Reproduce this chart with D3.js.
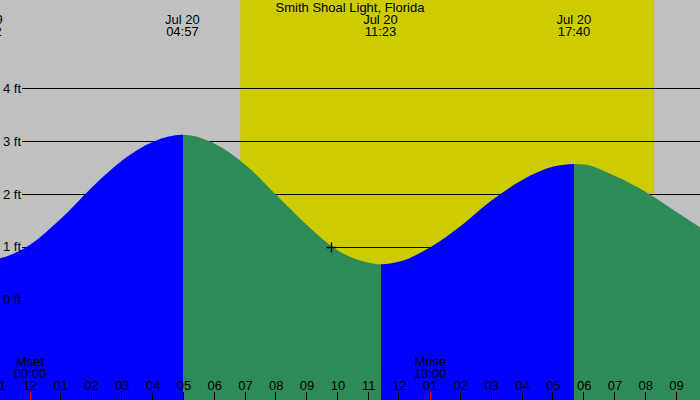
<!DOCTYPE html>
<html>
<head>
<meta charset="utf-8">
<script src="https://cdn.jsdelivr.net/npm/d3@7"></script>
<style>
  html, body { margin: 0; padding: 0; background: #c0c0c0; }
  svg { display: block; }
  text { font-family: "Liberation Sans", Arial, sans-serif; font-size: 13px; fill: #000; }
</style>
</head>
<body>
<svg id="chart" width="700" height="400"></svg>
<script>
// ---- data (hours relative to Jul 20 00:00, heights in ft) ----
const title = "Smith Shoal Light, Florida";
const tideTimes   = [-1.45, -1, 0, 1, 2, 3, 4, 4.95, 6, 7, 8, 9, 10, 11, 11.383, 12, 13, 14, 15, 16, 17, 17.667, 18, 19, 20, 21, 22];
const tideHeights = [0.75, 0.78, 1.04, 1.53, 2.12, 2.64, 2.99, 3.12, 2.95, 2.55, 1.98, 1.41, 0.93, 0.70, 0.67, 0.72, 0.99, 1.40, 1.88, 2.27, 2.52, 2.57, 2.56, 2.34, 2.04, 1.66, 1.28];

const extremeTimes   = [-1.45, 4.95, 11.383, 17.667];
const extremeHeights = [0.75, 3.12, 0.67, 2.57];
const extremeDates   = ["Jul 19", "Jul 20", "Jul 20", "Jul 20"];
const extremeClock   = ["22:32", "04:57", "11:23", "17:40"];

const sunrise = 6.83, sunset = 20.27;
const moonTimes  = [0, 13];
const moonNames  = ["Mset", "Mrise"];
const moonClock  = ["00:00", "13:00"];

const yTicks = [0, 1, 2, 3, 4];
const yTickLabels = ["0 ft", "1 ft", "2 ft", "3 ft", "4 ft"];
const hourTicks = [-1, 0, 1, 2, 3, 4, 5, 6, 7, 8, 9, 10, 11, 12, 13, 14, 15, 16, 17, 18, 19, 20, 21, 22];
const hourLabels = ["11","12","01","02","03","04","05","06","07","08","09","10","11","12","01","02","03","04","05","06","07","08","09","10"];

const markerTime = 9.78, markerHeight = 1.0;

// ---- chart ----
const W = 700, H = 400;
const svg = d3.select("#chart");
const x = d3.scaleLinear().domain([-0.974, 21.76]).range([0, W]);
const y = d3.scaleLinear().domain([0, 4]).range([299.6, 88.4]);

svg.append("rect").attr("width", W).attr("height", H).attr("fill", "#c0c0c0");
svg.append("rect")
  .attr("x", x(sunrise)).attr("y", 0)
  .attr("width", x(sunset) - x(sunrise)).attr("height", H)
  .attr("fill", "#cccc00");

// grid lines
svg.append("g").selectAll("line").data(yTicks).join("line")
  .attr("x1", 22).attr("x2", W)
  .attr("y1", d => Math.round(y(d)) + 0.5).attr("y2", d => Math.round(y(d)) + 0.5)
  .attr("stroke", "#000").attr("stroke-width", 1);

// tide area, split rising / falling
const pts = tideTimes.map((t, i) => [t, tideHeights[i]]);
const area = d3.area().x(d => x(d[0])).y0(H).y1(d => y(d[1])).curve(d3.curveMonotoneX);
const bounds = [x.domain()[0] - 2, ...extremeTimes.slice(1), x.domain()[1] + 2];
const defs = svg.append("defs");
for (let i = 0; i < bounds.length - 1; i++) {
  let isRising;
  if (i < extremeTimes.length - 1) isRising = extremeHeights[i + 1] > extremeHeights[i];
  else isRising = !(extremeHeights[i] > extremeHeights[i - 1]);
  const id = "seg" + i;
  const x0 = Math.ceil(x(bounds[i])), x1 = Math.ceil(x(bounds[i + 1]));
  defs.append("clipPath").attr("id", id).append("rect")
    .attr("x", x0).attr("y", 0).attr("width", x1 - x0).attr("height", H);
  svg.append("path").datum(pts)
    .attr("d", area)
    .attr("fill", isRising ? "#0000ff" : "#2e8b57")
    .attr("clip-path", `url(#${id})`);
}

// marker +
const mx = Math.round(x(markerTime)) + 0.5, my = Math.round(y(markerHeight)) + 0.5;
svg.append("path")
  .attr("d", `M${mx - 5},${my}H${mx + 5}M${mx},${my - 5}V${my + 5}`)
  .attr("stroke", "#000").attr("stroke-width", 1.3);

// y labels
svg.append("g").selectAll("text").data(yTicks).join("text")
  .attr("x", 3).attr("y", d => y(d) + 4.5)
  .text((d, i) => yTickLabels[i]);

// title
svg.append("text").attr("x", 350).attr("y", 12).attr("text-anchor", "middle").text(title);

// extreme labels
const ex = svg.append("g").selectAll("g").data(extremeTimes).join("g");
ex.append("text").attr("x", d => x(d)).attr("y", 24).attr("text-anchor", "middle")
  .text((d, i) => extremeDates[i]);
ex.append("text").attr("x", d => x(d)).attr("y", 36).attr("text-anchor", "middle")
  .text((d, i) => extremeClock[i]);

// hour ticks & labels
svg.append("g").selectAll("line").data(hourTicks).join("line")
  .attr("x1", d => Math.round(x(d)) - 0.5).attr("x2", d => Math.round(x(d)) - 0.5)
  .attr("y1", 392).attr("y2", H)
  .attr("stroke", "#000").attr("stroke-width", 1);
svg.append("g").selectAll("text").data(hourTicks).join("text")
  .attr("x", d => x(d)).attr("y", 390).attr("text-anchor", "middle")
  .text((d, i) => hourLabels[i]);

// moon
const mg = svg.append("g").selectAll("g").data(moonTimes).join("g");
mg.append("line")
  .attr("x1", d => Math.round(x(d)) + 0.5).attr("x2", d => Math.round(x(d)) + 0.5)
  .attr("y1", 392).attr("y2", H)
  .attr("stroke", "#ff0000").attr("stroke-width", 1.5);
mg.append("text").attr("x", d => x(d)).attr("y", 366).attr("text-anchor", "middle")
  .text((d, i) => moonNames[i]);
mg.append("text").attr("x", d => x(d)).attr("y", 378).attr("text-anchor", "middle")
  .text((d, i) => moonClock[i]);
</script>
</body>
</html>
